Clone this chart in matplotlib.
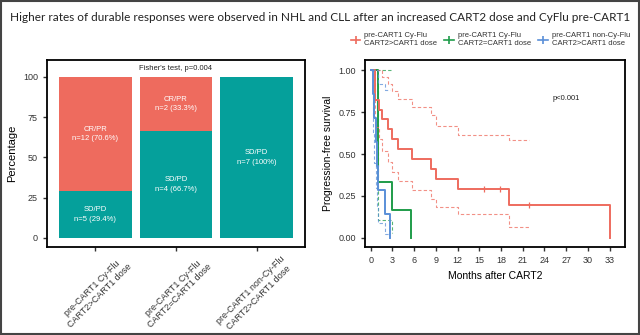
import numpy as np
import matplotlib
matplotlib.use('Agg')
import matplotlib.pyplot as plt
import matplotlib.transforms as mtransforms
from matplotlib.lines import Line2D
from matplotlib.patches import Rectangle

plt.rcParams['font.family'] = ['Liberation Sans', 'DejaVu Sans']

# bar chart data (counts per group)
groups = ['pre-CART1 Cy-Flu\nCART2>CART1 dose',
          'pre-CART1 Cy-Flu\nCART2=CART1 dose',
          'pre-CART1 non-Cy-Flu\nCART2>CART1 dose']
sd_pd_n = [5, 4, 7]
cr_pr_n = [12, 2, 0]

# Kaplan-Meier curves (months, survival)
red_t = [0, 0.6, 1.2, 1.5, 2.4, 3.0, 3.8, 5.65, 8.3, 9.0, 12.1, 19.1, 33.1]
red_s = [1, 0.824, 0.765, 0.706, 0.647, 0.588, 0.529, 0.471, 0.412, 0.353, 0.294, 0.196, 0]
red_ci_t = [0, 0.6, 1.2, 1.5, 2.4, 3.0, 3.8, 5.65, 8.3, 9.0, 12.1, 19.1, 21.9]
red_up = [1, 1, 1, 0.96, 0.92, 0.875, 0.83, 0.78, 0.73, 0.67, 0.615, 0.583, 0.583]
red_lo = [1, 0.66, 0.59, 0.52, 0.455, 0.395, 0.34, 0.285, 0.233, 0.186, 0.141, 0.066, 0.066]
red_cens_t = [15.6, 17.8, 21.9]
red_cens_s = [0.294, 0.294, 0.196]

green_t = [0, 1.05, 2.9, 5.5]
green_s = [1, 0.333, 0.167, 0]
green_ci_t = [0, 1.05, 2.9]
green_up = [1, 1, 1]
green_lo = [1, 0.108, 0.028]

blue_t = [0, 0.3, 0.5, 0.7, 0.85, 1.0, 1.97, 2.66]
blue_s = [1, 0.857, 0.714, 0.571, 0.429, 0.286, 0.143, 0]
blue_ci_t = [0, 0.3, 0.5, 0.7, 0.85, 1.0, 1.97, 2.66]
blue_up = [1, 1, 1, 1, 1, 0.92, 0.88, 0.88]
blue_lo = [1, 0.633, 0.447, 0.30, 0.182, 0.089, 0.023, 0.023]

col_red = '#ee6b5e'
col_teal = '#05a09b'
col_green = '#1f9c4a'
col_blue = '#5a8fd8'

fig = plt.figure(figsize=(6.4, 3.35), dpi=100)

fig.text(0.016, 0.949, 'Higher rates of durable responses were observed in NHL and CLL after an increased CART2 dose and CyFlu pre-CART1',
         fontsize=8.5, va='center', ha='left', family=['Lato', 'DejaVu Sans'], color='#222222')

# ---- left: stacked bars
ax1 = fig.add_axes([0.0734, 0.2627, 0.403, 0.558])
totals = np.array(sd_pd_n) + np.array(cr_pr_n)
sd_pct = 100 * np.array(sd_pd_n) / totals
cr_pct = 100 * np.array(cr_pr_n) / totals
x = np.arange(len(groups))
ax1.bar(x, sd_pct, width=0.9, color=col_teal)
ax1.bar(x, cr_pct, width=0.9, bottom=sd_pct, color=col_red)


def fmt(p):
    return '100%' if p == 100 else f'{p:.1f}%'


for i in range(len(groups)):
    if sd_pd_n[i] > 0:
        ax1.text(x[i], sd_pct[i] / 2, f'SD/PD\nn={sd_pd_n[i]} ({fmt(sd_pct[i])})',
                 ha='center', va='center', color='white', fontsize=5.5, linespacing=1.5)
    if cr_pr_n[i] > 0:
        ax1.text(x[i], sd_pct[i] + cr_pct[i] / 2, f'CR/PR\nn={cr_pr_n[i]} ({fmt(cr_pct[i])})',
                 ha='center', va='center', color='white', fontsize=5.5, linespacing=1.5)

ax1.text(1, 105, "Fisher's test, p=0.004", ha='center', va='center', fontsize=5.5, color='#222222')
ax1.set_xlim(-0.6, 2.6)
ax1.set_ylim(-5.6, 110.5)
ax1.set_yticks([0, 25, 50, 75, 100])
ax1.set_xticks(x)
ax1.set_xticklabels([])
# rotated group labels, shifted right of their ticks like the original
lab_tr = ax1.get_xaxis_transform() + mtransforms.ScaledTranslation(0.24, -0.075, fig.dpi_scale_trans)
for i, g in enumerate(groups):
    ax1.text(x[i], 0, g, transform=lab_tr, rotation=45, ha='right', va='top',
             rotation_mode='anchor', multialignment='center', fontsize=6.5, color='#333333')
ax1.set_ylabel('Percentage', fontsize=8)

# ---- right: PFS curves
ax2 = fig.add_axes([0.5703, 0.2627, 0.406, 0.558])
for t, s, tc, up, lo, c in [(green_t, green_s, green_ci_t, green_up, green_lo, col_green),
                            (red_t, red_s, red_ci_t, red_up, red_lo, col_red),
                            (blue_t, blue_s, blue_ci_t, blue_up, blue_lo, col_blue)]:
    ax2.step(tc, up, where='post', color=c, lw=0.8, ls=(0, (3, 2)), alpha=0.75)
    ax2.step(tc, lo, where='post', color=c, lw=0.8, ls=(0, (3, 2)), alpha=0.75)
    ax2.step(t, s, where='post', color=c, lw=1.4)
ax2.plot(red_cens_t, red_cens_s, ls='none', marker='|', ms=5, mew=0.9, color=col_red)

ax2.text(27, 0.83, 'p<0.001', fontsize=5.5, ha='center', va='center', color='#222222')
ax2.set_xlim(-0.8, 35.1)
ax2.set_ylim(-0.054, 1.06)
ax2.set_xticks(np.arange(0, 34, 3))
ax2.set_yticks([0, 0.25, 0.5, 0.75, 1.0])
ax2.set_yticklabels(['0.00', '0.25', '0.50', '0.75', '1.00'])
ax2.set_xlabel('Months after CART2', fontsize=7.5)
ax2.set_ylabel('Progression-free survival', fontsize=7.5)

for ax in (ax1, ax2):
    for sp in ax.spines.values():
        sp.set_linewidth(1.3)
    ax.tick_params(axis='both', labelsize=6.5, width=1, length=3, colors='#333333')

handles = [Line2D([], [], color=c, lw=1.2, marker='|', ms=6, mew=1.2)
           for c in (col_red, col_green, col_blue)]
fig.legend(handles, groups, ncol=3, loc='center right', bbox_to_anchor=(0.995, 0.881),
           frameon=False, fontsize=5.5, handlelength=1.3, handletextpad=0.5,
           columnspacing=0.9, labelcolor='#333333')

fig.add_artist(Rectangle((0.002, 0.003), 0.996, 0.994, transform=fig.transFigure,
                         fill=False, lw=1.5, edgecolor='#444444'))

fig.savefig('out.png', dpi=100)
